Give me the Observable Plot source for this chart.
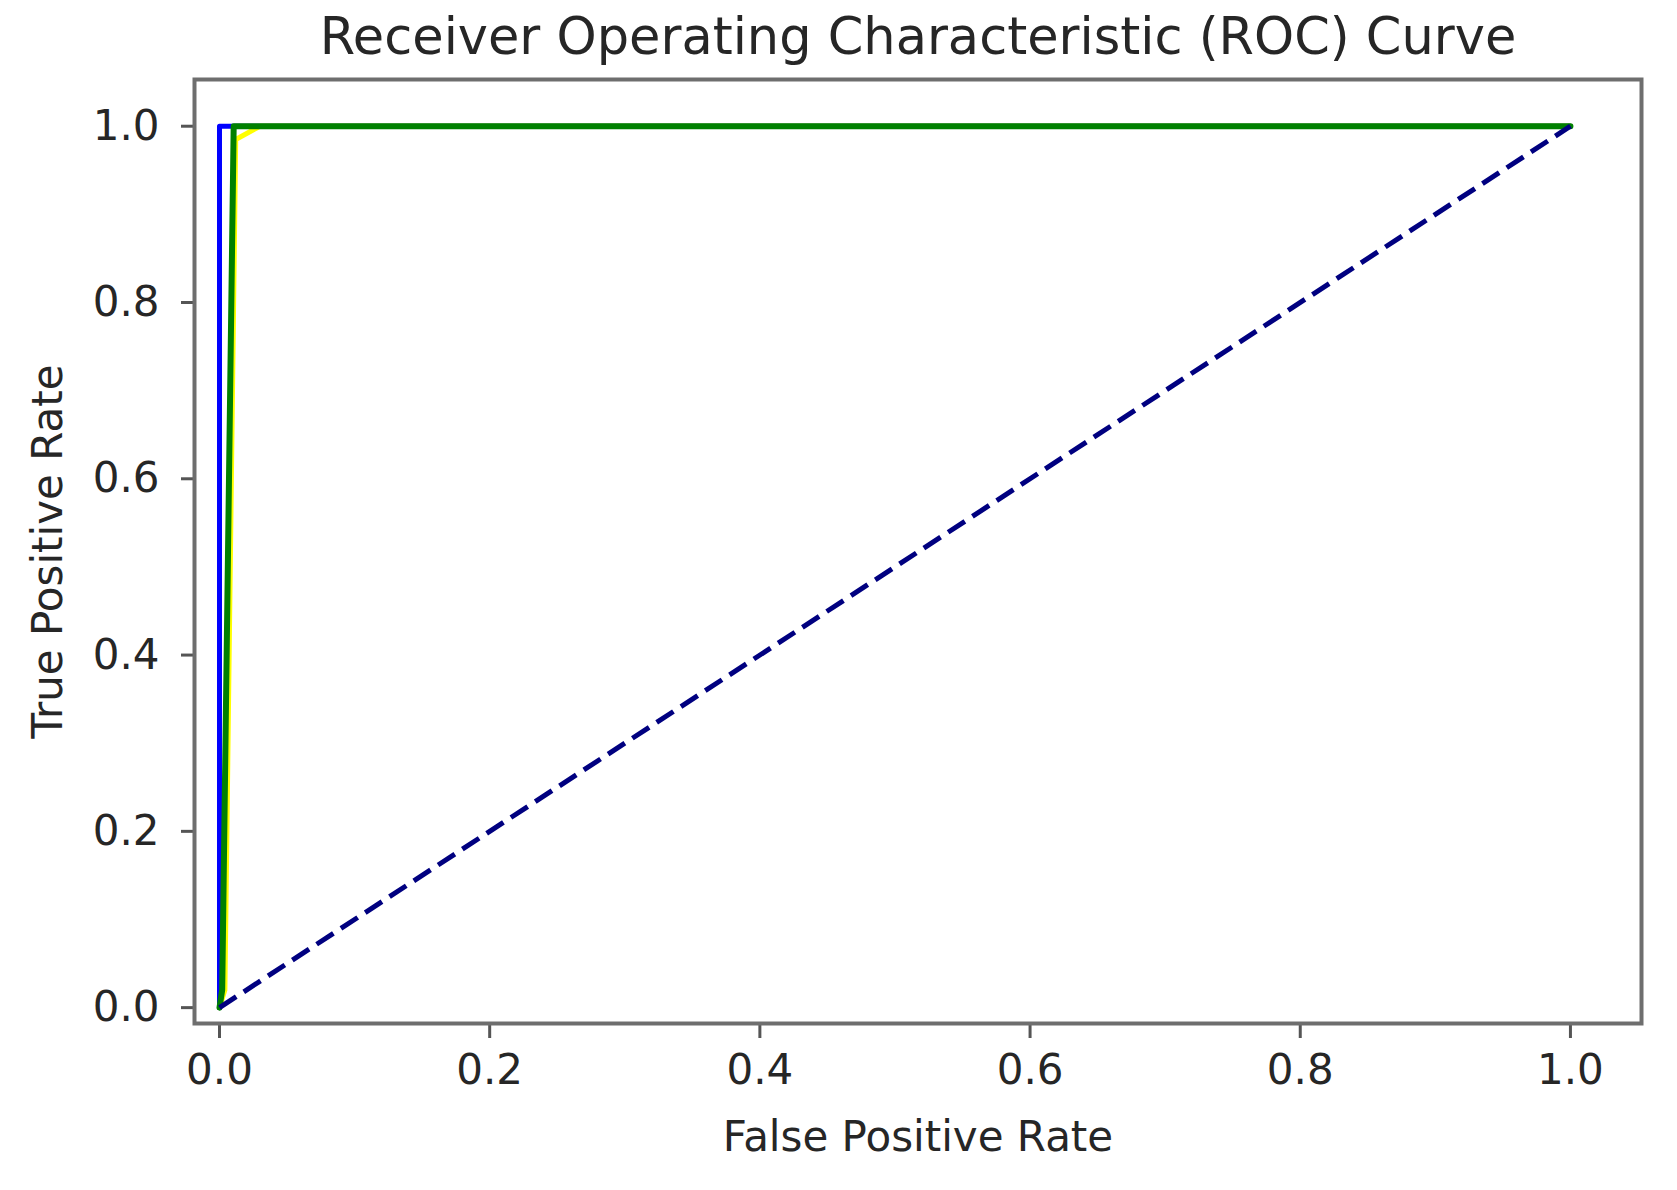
<!DOCTYPE html>
<html>
<head>
<meta charset="utf-8">
<script src="https://cdn.jsdelivr.net/npm/d3@7"></script>
<script src="https://cdn.jsdelivr.net/npm/@observablehq/plot@0.6"></script>
<style>
  html, body { margin: 0; padding: 0; background: #fff; }
  #chart svg { display: block; }
</style>
</head>
<body>
<div id="chart"></div>
<script>
// ROC curves (false positive rate, true positive rate)
const fprBlue = [0, 0, 1];
const tprBlue = [0, 1, 1];

const fprYellow = [0, 0.004, 0.012, 0.03, 1];
const tprYellow = [0, 0.02, 0.985, 1, 1];

const fprGreen = [0, 0.002, 0.0105, 1];
const tprGreen = [0, 0.02, 1, 1];

const fprChance = [0, 1];
const tprChance = [0, 1];

const tickValues = [0, 0.2, 0.4, 0.6, 0.8, 1.0];

const titleText = "Receiver Operating Characteristic (ROC) Curve";
const xLabelText = "False Positive Rate";
const yLabelText = "True Positive Rate";

const toRows = (xs, ys) => xs.map((x, i) => ({x, y: ys[i]}));

const fontFamily = "'DejaVu Sans', sans-serif";
const textColor = "#262626";

const chart = Plot.plot({
  width: 1677,
  height: 1190,
  marginLeft: 194,
  marginRight: 36,
  marginTop: 79,
  marginBottom: 167,
  style: {fontFamily, fontSize: "42px", color: textColor, background: "#fff"},
  x: {domain: [-0.0185, 1.0526]},
  y: {domain: [-0.018, 1.053]},
  marks: [
    Plot.axisX(tickValues, {
      tickSize: 15, tickPadding: 16, tickFormat: d => d.toFixed(1),
      stroke: "#555", strokeWidth: 3, fontSize: 42, fill: textColor, label: null
    }),
    Plot.axisY(tickValues, {
      tickSize: 13, tickPadding: 22, tickFormat: d => d.toFixed(1),
      stroke: "#555", strokeWidth: 3, fontSize: 42, fill: textColor, label: null
    }),
    Plot.line(toRows(fprBlue, tprBlue), {x: "x", y: "y", stroke: "blue", strokeWidth: 5}),
    Plot.line(toRows(fprYellow, tprYellow), {x: "x", y: "y", stroke: "yellow", strokeWidth: 5}),
    Plot.line(toRows(fprGreen, tprGreen), {x: "x", y: "y", stroke: "green", strokeWidth: 6}),
    Plot.line(toRows(fprChance, tprChance), {
      x: "x", y: "y", stroke: "navy", strokeWidth: 5,
      strokeDasharray: "20,9", strokeLinecap: "butt"
    }),
    Plot.frame({stroke: "#6e6e6e", strokeWidth: 4}),
    Plot.text([titleText], {
      text: d => d, frameAnchor: "top", dy: -42, lineAnchor: "middle",
      fontSize: 51, fill: textColor, fontFamily
    }),
    Plot.text([xLabelText], {
      text: d => d, frameAnchor: "bottom", dy: 114, lineAnchor: "middle",
      fontSize: 42, fill: textColor, fontFamily
    }),
    Plot.text([yLabelText], {
      text: d => d, frameAnchor: "left", dx: -146, rotate: -90,
      textAnchor: "middle", lineAnchor: "middle",
      fontSize: 42, fill: textColor, fontFamily
    })
  ]
});

document.getElementById("chart").appendChild(chart);
</script>
</body>
</html>
